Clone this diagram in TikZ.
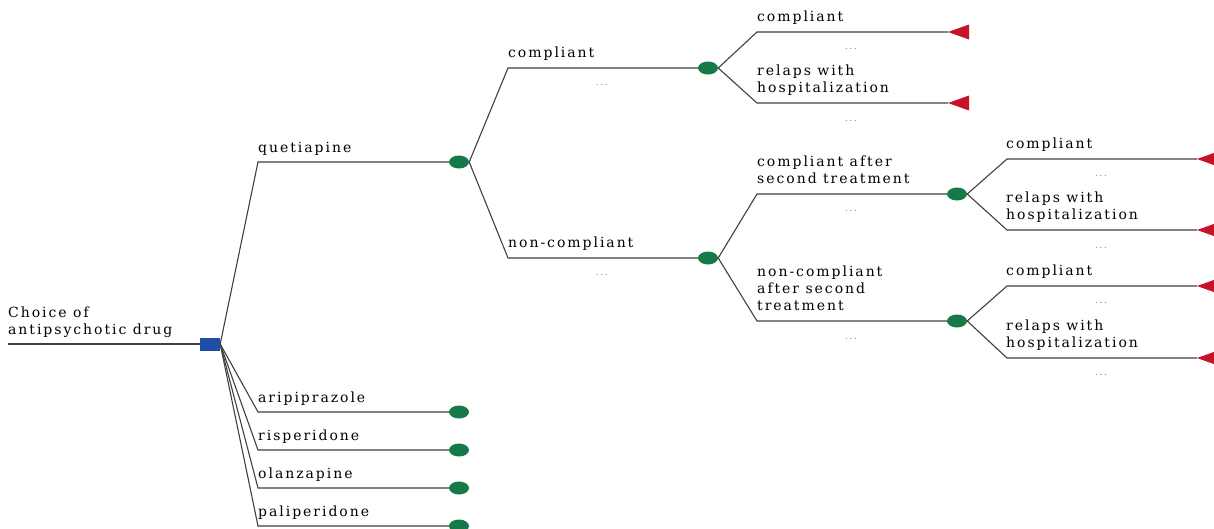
\documentclass[tikz,border=0pt]{standalone}
\usepackage{fontspec}
\setmainfont{DejaVu Serif}[LetterSpace=14]
\usetikzlibrary{shapes.geometric}
\definecolor{decblue}{RGB}{31,78,168}
\definecolor{chgreen}{RGB}{22,122,72}
\definecolor{termred}{RGB}{200,18,40}
\tikzset{
  decision/.style={rectangle, fill=decblue, minimum width=20pt, minimum height=13pt, inner sep=0pt},
  chance/.style={ellipse, fill=chgreen, minimum width=20pt, minimum height=13pt, inner sep=0pt},
  branch/.style={draw=black!75, line width=1.1pt},
  lbl/.style={anchor=south west, align=left, inner sep=0pt, text depth=0pt,
    font=\fontsize{14}{17}\selectfont},
  dots/.style={inner sep=0pt, text=black!45, font=\fontsize{10}{10}\selectfont}
}
\begin{document}
\begin{tikzpicture}[x=1pt,y=-1pt]
\useasboundingbox (0,0) rectangle (1214,528);

% root and first choice
\coordinate (start) at (8,344);
\node[decision] (d) at (210,344) {};
\node[lbl] (rootlbl) at (8,335) {Choice of\\antipsychotic drug};
\draw[branch] (start) -- (d.west);

\coordinate (qc) at (258,162);
\coordinate (ac) at (258,412);
\coordinate (rc) at (258,450);
\coordinate (oc) at (258,488);
\coordinate (pc) at (258,526);
\node[chance] (q) at (459,162) {};
\node[chance] (a) at (459,412) {};
\node[chance] (r) at (459,450) {};
\node[chance] (o) at (459,488) {};
\node[chance] (p) at (459,526) {};
\node[lbl] (ql) at (258,153) {quetiapine};
\node[lbl] (al) at (258,403) {aripiprazole};
\node[lbl] (rl) at (258,441) {risperidone};
\node[lbl] (ol) at (258,479) {olanzapine};
\node[lbl] (pl) at (258,517) {paliperidone};
\draw[branch] (d.east) -- (qc) -- (q.west);
\draw[branch] (d.east) -- (ac) -- (a.west);
\draw[branch] (d.east) -- (rc) -- (r.west);
\draw[branch] (d.east) -- (oc) -- (o.west);
\draw[branch] (d.east) -- (pc) -- (p.west);

% quetiapine
\coordinate (cc) at (508,68);
\coordinate (nc) at (508,258);
\node[chance] (c) at (708,68) {};
\node[chance] (n) at (708,258) {};
\node[lbl] (cl) at (508,58) {compliant};
\node[lbl] (nl) at (508,248) {non-compliant};
\node[dots] (cd) at (602,85) {...};
\node[dots] (nd) at (602,275) {...};
\draw[branch] (q.east) -- (cc) -- (c.west);
\draw[branch] (q.east) -- (nc) -- (n.west);

% compliant
\coordinate (ccc) at (757,32);
\coordinate (chc) at (757,103);
\coordinate (cct) at (948,32);
\coordinate (cht) at (948,103);
\node[lbl] (ccl) at (757,22) {compliant};
\node[lbl] (chl) at (757,93) {relaps with\\hospitalization};
\node[dots] (ccd) at (851,49) {...};
\node[dots] (chd) at (851,121) {...};
\draw[branch] (c.east) -- (ccc) -- (cct);
\draw[branch] (c.east) -- (chc) -- (cht);

% non-compliant
\coordinate (n2c) at (757,194);
\coordinate (n3c) at (757,321);
\node[chance] (s) at (957,194) {};
\node[chance] (t) at (957,321) {};
\node[lbl] (n2l) at (757,184) {compliant after\\second treatment};
\node[lbl] (n3l) at (757,311) {non-compliant\\after second\\treatment};
\node[dots] (n2d) at (851,211) {...};
\node[dots] (n3d) at (851,339) {...};
\draw[branch] (n.east) -- (n2c) -- (s.west);
\draw[branch] (n.east) -- (n3c) -- (t.west);

% after second treatment
\coordinate (scc) at (1007,159);
\coordinate (shc) at (1007,230);
\coordinate (tcc) at (1007,286);
\coordinate (thc) at (1007,358);
\coordinate (sct) at (1197,159);
\coordinate (sht) at (1197,230);
\coordinate (tct) at (1197,286);
\coordinate (tht) at (1197,358);
\node[lbl] (scl) at (1006,149) {compliant};
\node[lbl] (shl) at (1006,220) {relaps with\\hospitalization};
\node[lbl] (tcl) at (1006,276) {compliant};
\node[lbl] (thl) at (1006,348) {relaps with\\hospitalization};
\node[dots] (scd) at (1101,176) {...};
\node[dots] (shd) at (1101,248) {...};
\node[dots] (tcd) at (1101,303) {...};
\node[dots] (thd) at (1101,375) {...};
\draw[branch] (s.east) -- (scc) -- (sct);
\draw[branch] (s.east) -- (shc) -- (sht);
\draw[branch] (t.east) -- (tcc) -- (tct);
\draw[branch] (t.east) -- (thc) -- (tht);

% terminal triangles
\foreach \t in {cct,cht,sct,sht,tct,tht}
  \fill[termred] (\t) -- ++(21,-7.5) -- ++(0,15) -- cycle;
\end{tikzpicture}
\end{document}
